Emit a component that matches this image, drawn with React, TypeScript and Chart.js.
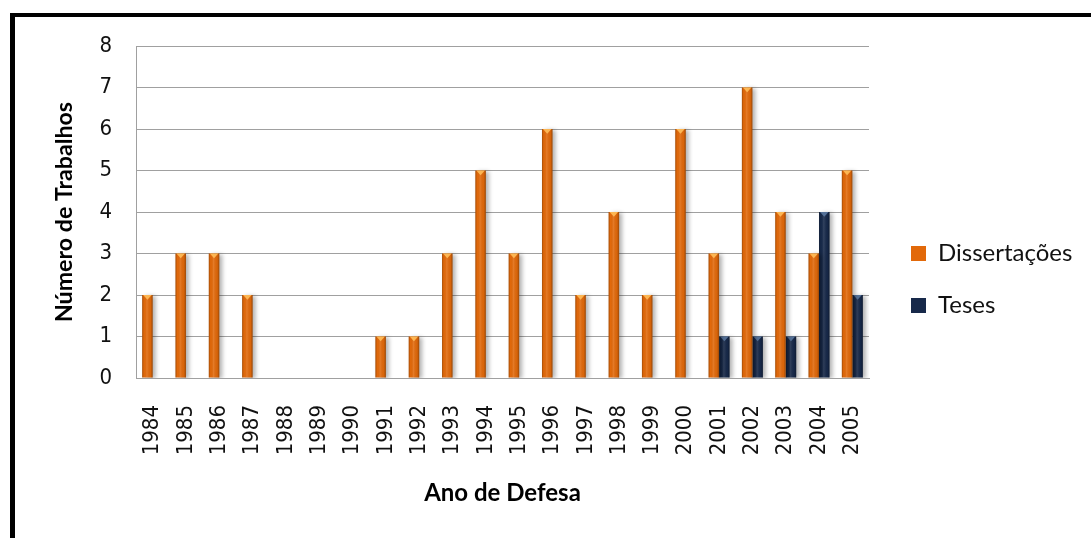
import React, { useEffect, useRef } from "react";
import { Chart, registerables } from "chart.js";

Chart.register(...registerables);

const years = [
  "1984", "1985", "1986", "1987", "1988", "1989", "1990", "1991", "1992", "1993", "1994",
  "1995", "1996", "1997", "1998", "1999", "2000", "2001", "2002", "2003", "2004", "2005",
];
const dissertacoes = [2, 3, 3, 2, 0, 0, 0, 1, 1, 3, 5, 3, 6, 2, 4, 2, 6, 3, 7, 4, 3, 5];
const teses = [0, 0, 0, 0, 0, 0, 0, 0, 0, 0, 0, 0, 0, 0, 0, 0, 0, 1, 1, 1, 4, 2];
const yMin = 0;
const yMax = 8;
const yStep = 1;

const seriesNames = ["Dissertações", "Teses"];
const seriesColors = ["#E2690A", "#17294A"];
const seriesHighlights = ["rgba(255,190,90,0.9)", "rgba(90,120,160,0.9)"];

const TICK_FONT = '"DejaVu Sans Condensed", "DejaVu Sans", sans-serif';
const TEXT_FONT = 'Lato, "Open Sans", sans-serif';

const LEGEND_WIDTH = 208;

const legendWidthPlugin = {
  id: "legendWidth",
  beforeLayout(chart: any) {
    const lg = chart.legend;
    if (lg && !lg.__patched) {
      const orig = lg.fit.bind(lg);
      lg.fit = () => {
        orig();
        lg.width = LEGEND_WIDTH;
      };
      lg.__patched = true;
    }
  },
};

const bevelPlugin = {
  id: "bevel",
  beforeDatasetDraw(chart: any) {
    const ctx = chart.ctx;
    ctx.save();
    ctx.shadowColor = "rgba(0,0,0,0.30)";
    ctx.shadowBlur = 4;
    ctx.shadowOffsetX = 3;
    ctx.shadowOffsetY = 1;
  },
  afterDatasetDraw(chart: any, args: any) {
    const ctx = chart.ctx;
    ctx.restore();
    const meta = args.meta;
    const hl = seriesHighlights[args.index] || "rgba(255,255,255,0.5)";
    meta.data.forEach((bar: any) => {
      const { x, y, base, width } = bar.getProps(["x", "y", "base", "width"], true);
      const h = base - y;
      if (!(h > 0)) return;
      const l = x - width / 2;
      const r = x + width / 2;
      ctx.save();
      const g = ctx.createLinearGradient(l, 0, r, 0);
      g.addColorStop(0, "rgba(0,0,0,0.28)");
      g.addColorStop(0.18, "rgba(0,0,0,0.0)");
      g.addColorStop(0.45, "rgba(255,255,255,0.12)");
      g.addColorStop(0.8, "rgba(0,0,0,0.04)");
      g.addColorStop(1, "rgba(0,0,0,0.32)");
      ctx.fillStyle = g;
      ctx.fillRect(l, y, width, h);
      ctx.fillStyle = hl;
      ctx.beginPath();
      ctx.moveTo(l + 1, y);
      ctx.lineTo(r - 1, y);
      ctx.lineTo(x, y + Math.min(width * 0.45, h));
      ctx.closePath();
      ctx.fill();
      ctx.restore();
    });
  },
};

function BarChart() {
  const ref = useRef<HTMLCanvasElement | null>(null);
  useEffect(() => {
    if (!ref.current) return;
    const chart = new Chart(ref.current, {
      type: "bar",
      data: {
        labels: years,
        datasets: [
          {
            label: seriesNames[0],
            data: dissertacoes,
            backgroundColor: seriesColors[0],
            borderWidth: 0,
            barPercentage: 1,
            categoryPercentage: 0.63,
          },
          {
            label: seriesNames[1],
            data: teses,
            backgroundColor: seriesColors[1],
            borderWidth: 0,
            barPercentage: 1,
            categoryPercentage: 0.63,
          },
        ],
      },
      options: {
        animation: false,
        responsive: false,
        maintainAspectRatio: false,
        layout: { padding: { left: 40, top: 46, right: 0, bottom: 25 } },
        plugins: {
          legend: {
            position: "right",
            labels: {
              boxWidth: 15,
              boxHeight: 15,
              padding: 28,
              color: "#111",
              font: { family: TEXT_FONT, size: 24 },
            },
          },
          tooltip: { enabled: false },
        },
        scales: {
          x: {
            grid: { display: false, drawTicks: false },
            border: { display: true, color: "#A0A0A0" },
            ticks: {
              minRotation: 90,
              maxRotation: 90,
              autoSkip: false,
              padding: 27,
              color: "#111",
              font: { family: TICK_FONT, size: 22 },
            },
            title: {
              display: true,
              text: "Ano de Defesa",
              color: "#000",
              font: { family: TEXT_FONT, size: 24, weight: "bold" },
              padding: { top: 0, bottom: 5 },
            },
            afterFit: (s: any) => {
              s.height = 135;
            },
          },
          y: {
            min: yMin,
            max: yMax,
            ticks: {
              stepSize: yStep,
              padding: 24,
              color: "#111",
              font: { family: TICK_FONT, size: 22 },
            },
            grid: { color: "#A0A0A0", drawTicks: false },
            border: { display: true, color: "#A0A0A0" },
            title: {
              display: true,
              text: "Número de Trabalhos",
              color: "#000",
              font: { family: TEXT_FONT, size: 23.2, weight: "bold" },
              padding: { top: 11, bottom: 0 },
            },
            afterFit: (s: any) => {
              s.width = 96;
            },
          },
          y2: {
            position: "right",
            display: true,
            grid: { display: false, drawTicks: false },
            border: { display: false },
            ticks: { display: false },
            afterFit: (s: any) => {
              s.width = 14;
            },
          },
        },
      } as any,
      plugins: [legendWidthPlugin, bevelPlugin],
    });
    return () => chart.destroy();
  }, []);
  return <canvas ref={ref} width={1091} height={538} style={{ display: "block", width: 1091, height: 538 }} />;
}

export default function App() {
  return (
    <div style={{ position: "fixed", left: 0, top: 0, width: 1091, height: 538, background: "#fff", overflow: "hidden" }}>
      <div
        style={{
          position: "absolute",
          left: 10,
          top: 13,
          right: -10,
          bottom: -10,
          borderTop: "4px solid #000",
          borderLeft: "5px solid #000",
        }}
      />
      <div style={{ position: "absolute", left: 0, top: 0 }}>
        <BarChart />
      </div>
    </div>
  );
}
